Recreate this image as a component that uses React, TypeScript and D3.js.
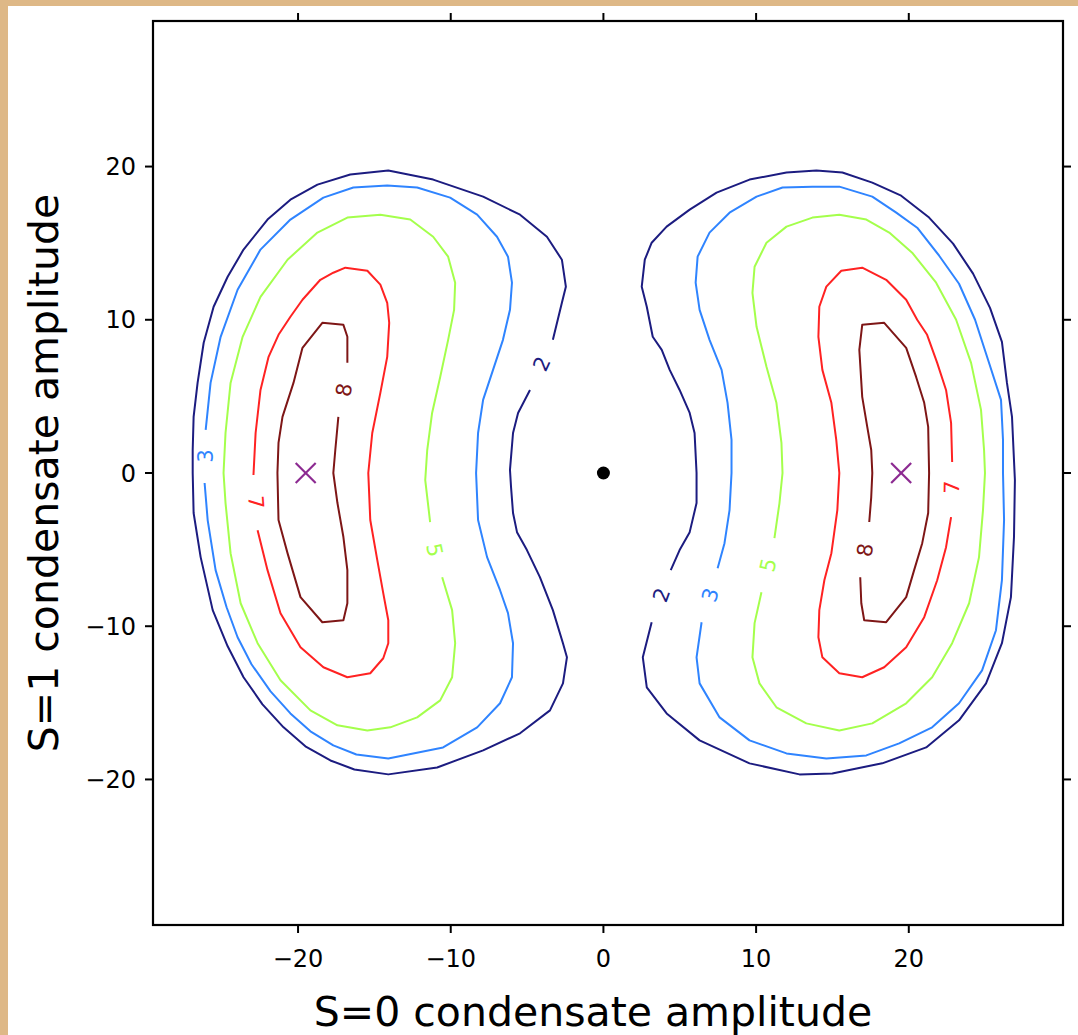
import React from 'react';
import * as d3 from 'd3';

// contour paths, in data units [S=0, S=1]
// each one is open where matplotlib cut it for the inline label
const left2: [number, number][] = [
  [-3.31, 8.69], [-2.72, 11.11], [-2.46, 12.16], [-2.72, 13.92], [-3.7, 15.42], [-5.46, 16.86],
  [-7.88, 18.04], [-11.15, 19.15], [-14.09, 19.74], [-16.58, 19.48], [-18.73, 18.82], [-20.5, 17.84],
  [-22.0, 16.54], [-23.57, 14.58], [-24.61, 12.81], [-25.53, 10.85], [-26.18, 8.5], [-26.58, 5.88],
  [-26.84, 3.66], [-26.9, 1.5], [-26.9, 0], [-26.84, -2.61], [-26.38, -5.49], [-25.59, -8.95],
  [-24.61, -11.31], [-23.57, -13.33], [-22.33, -15.1], [-20.95, -16.6], [-19.52, -17.84],
  [-17.88, -18.76], [-16.31, -19.35], [-14.09, -19.67],
  [-10.89, -19.22], [-7.88, -18.1], [-5.46, -16.99], [-3.5, -15.49], [-2.65, -13.73], [-2.39, -12.03],
  [-2.65, -11.11], [-3.31, -8.95], [-4.16, -6.8], [-5.01, -5.03], [-5.66, -3.86], [-5.92, -2.61],
  [-6.05, -0.92], [-6.12, 0.2], [-6.05, 1.05], [-5.92, 2.61], [-5.59, 3.92], [-4.81, 5.42],
];
const left3: [number, number][] = [
  [-26.12, -0.65], [-25.92, -3.07], [-25.4, -6.34], [-24.68, -8.76], [-23.96, -10.72], [-23.05, -12.48],
  [-21.8, -14.25], [-20.5, -15.69], [-19.19, -16.86], [-17.69, -17.78], [-16.18, -18.37], [-14.09, -18.63],
  [-10.5, -17.91], [-8.27, -16.6], [-6.77, -15.03],
  [-5.99, -13.33], [-5.92, -11.11], [-6.25, -9.15], [-6.77, -7.65], [-7.62, -5.49], [-8.21, -3.07],
  [-8.34, 0], [-8.21, 2.61], [-7.88, 4.77], [-7.23, 6.73], [-6.58, 8.69], [-6.12, 10.65], [-5.99, 12.42],
  [-6.25, 14.12], [-6.97, 15.42], [-8.27, 16.86], [-10.04, 17.97], [-12.2, 18.63], [-14.16, 18.76],
  [-16.38, 18.63], [-18.34, 17.97], [-20.5, 16.54], [-22.46, 14.58], [-23.96, 11.96], [-25.07, 8.89],
  [-25.73, 5.88], [-26.05, 2.81],
];
const left5: [number, number][] = [
  [-10.56, -6.8], [-9.91, -8.95], [-9.71, -11.11], [-9.91, -13.33], [-10.69, -14.84], [-12.2, -15.95],
  [-13.96, -16.6], [-15.46, -16.8], [-17.42, -16.47], [-19.19, -15.49], [-21.15, -13.53], [-22.65, -11.11],
  [-23.76, -8.5], [-24.42, -5.23], [-24.75, -1.96], [-24.88, 0], [-24.75, 2.61], [-24.42, 5.88],
  [-23.63, 8.89], [-22.46, 11.5], [-20.69, 13.92], [-18.73, 15.69], [-16.77, 16.67], [-14.61, 16.86],
  [-12.65, 16.54], [-11.15, 15.42], [-10.17, 14.12], [-9.71, 12.42], [-9.78, 10.65], [-10.17, 8.69],
  [-10.69, 6.27], [-11.22, 3.92], [-11.54, 1.5], [-11.67, -0.46], [-11.35, -3.2],
];
const left7: [number, number][] = [
  [-22.92, -0.13], [-22.78, 2.61], [-22.46, 5.42], [-21.93, 7.58], [-21.28, 9.02], [-20.5, 10.2],
  [-19.71, 11.31], [-18.54, 12.61], [-17.69, 13.07], [-16.9, 13.4], [-15.46, 13.2], [-14.61, 12.29],
  [-14.16, 11.11], [-14.03, 9.8], [-14.16, 7.58], [-14.61, 5.23], [-15.14, 2.61], [-15.4, 0],
  [-15.27, -3.07], [-14.81, -5.69], [-14.42, -7.84], [-14.09, -9.61], [-14.09, -11.11], [-14.42, -12.09],
  [-15.27, -13.07], [-16.77, -13.33], [-18.34, -12.68], [-19.84, -11.37], [-21.15, -9.15], [-22.0, -6.34],
  [-22.65, -3.73],
];
const left8: [number, number][] = [
  [-17.36, 3.66], [-17.56, 1.5], [-17.69, 0], [-17.42, -1.96], [-17.03, -4.18], [-16.77, -6.34],
  [-16.77, -8.5], [-17.03, -9.61], [-18.41, -9.74], [-19.84, -8.1], [-20.69, -5.23], [-21.28, -3.07],
  [-21.35, 0], [-21.28, 1.96], [-21.02, 3.66], [-20.3, 5.88], [-19.71, 8.17], [-18.41, 9.8],
  [-17.03, 9.67], [-16.77, 8.89], [-16.77, 7.19],
];
const right2: [number, number][] = [
  [3.16, -9.74], [2.58, -12.03], [2.84, -13.99], [4.14, -15.69], [6.3, -17.45], [9.57, -18.95],
  [12.84, -19.67], [14.99, -19.61], [18.26, -18.95], [21.14, -17.91], [23.29, -16.14], [25.06, -13.73],
  [26.1, -11.11], [26.69, -8.1], [26.89, -4.18], [26.95, -0.46], [26.76, 3.66], [26.43, 5.88],
  [26.1, 8.56], [25.32, 10.78], [24.21, 13.01], [22.9, 14.97], [21.33, 16.67], [19.5, 18.1],
  [17.61, 18.95], [15.65, 19.61], [13.95, 19.74], [11.99, 19.61], [9.57, 19.15], [7.41, 18.3],
  [5.65, 17.19], [4.14, 16.08], [3.16, 15.03], [2.71, 13.92], [2.51, 12.16], [2.84, 10.85],
  [3.23, 8.89], [3.82, 8.04], [4.34, 6.73], [4.99, 5.42], [5.65, 3.92], [5.97, 2.61], [6.1, 0],
  [6.1, -1.96], [5.65, -3.86], [4.99, -5.03], [4.41, -6.34],
];
const right3: [number, number][] = [
  [6.43, -9.74], [6.1, -12.03], [6.3, -13.73], [7.61, -15.95], [9.57, -17.45], [11.99, -18.3],
  [14.6, -18.63], [17.22, -18.43], [19.37, -17.65], [21.53, -16.6], [23.29, -15.03], [24.8, -12.88],
  [25.71, -10.26], [26.1, -6.99], [26.24, -3.07], [26.17, 0], [26.17, 2.16], [26.04, 4.77],
  [25.19, 7.39], [24.34, 10.0], [23.29, 12.35], [21.99, 14.18], [20.55, 16.01], [19.18, 16.99],
  [17.61, 18.04], [15.45, 18.69], [13.69, 18.69], [11.73, 18.63], [10.03, 18.04], [8.26, 16.99],
  [6.95, 15.69], [6.17, 14.12], [6.04, 12.42], [6.3, 10.65], [6.95, 8.69], [7.74, 6.73], [8.13, 4.58],
  [8.39, 2.16], [8.39, 0], [8.26, -2.42], [7.93, -4.58], [7.48, -6.21],
];
const right5: [number, number][] = [
  [10.35, -7.78], [9.9, -9.8], [9.76, -12.03], [10.22, -13.73], [11.33, -15.29], [13.29, -16.34],
  [15.45, -16.8], [17.61, -16.34], [19.83, -15.03], [21.53, -13.33], [22.84, -11.11], [23.95, -8.5],
  [24.6, -5.49], [24.86, -2.42], [24.99, 0], [24.93, 1.5], [24.73, 4.12], [24.08, 7.19], [23.1, 10.0],
  [21.79, 12.42], [20.22, 14.38], [18.72, 15.69], [17.22, 16.54], [15.45, 16.86], [13.69, 16.67],
  [11.99, 16.08], [10.68, 15.03], [9.9, 13.46], [9.76, 11.76], [10.03, 9.54], [10.68, 6.93],
  [11.33, 4.58], [11.66, 1.96], [11.73, 0], [11.53, -1.96], [11.2, -4.25],
];
const right7: [number, number][] = [
  [22.77, -2.88], [22.44, -4.84], [21.86, -7.0], [21.01, -9.41], [19.83, -11.37], [18.39, -12.68],
  [16.95, -13.33], [15.45, -13.07], [14.34, -12.03], [14.08, -10.72], [14.14, -8.95], [14.47, -7.0],
  [14.93, -5.23], [15.32, -2.42], [15.45, 0], [15.25, 2.16], [14.93, 4.58], [14.34, 6.73], [14.08, 8.89],
  [14.14, 10.85], [14.6, 12.16], [15.58, 13.2], [16.95, 13.4], [18.52, 12.61], [19.83, 11.31],
  [20.55, 10.0], [21.2, 9.02], [21.86, 7.19], [22.44, 5.42], [22.77, 3.27], [22.84, 0.72],
];
const right8: [number, number][] = [
  [16.82, -6.8], [16.89, -8.5], [17.08, -9.61], [18.52, -9.74], [19.83, -8.1], [20.35, -6.34],
  [20.88, -4.58], [21.27, -2.61], [21.33, 0], [21.27, 3.01], [21.01, 4.58], [20.48, 6.27], [19.83, 8.17],
  [18.39, 9.8], [16.95, 9.67], [16.76, 8.04], [16.95, 4.97], [17.28, 3.01], [17.54, 1.5], [17.61, 0],
  [17.54, -1.57], [17.41, -3.2],
];

// inline labels: level, position, angle along the line
const labelLevels = [2, 3, 7, 8, 5, 2, 3, 5, 8, 7];
const labelX = [-4.03, -26.05, -22.78, -16.97, -11.08, 3.82, 7.02, 10.81, 17.15, 22.84];
const labelY = [7.12, 1.11, -1.9, 5.42, -5.03, -7.97, -7.97, -6.01, -5.03, -0.92];
const labelAngle = [-65, -89, 86, -80, 78, -70, -73, -77, -81, -89];

// minima (x) and the origin (dot)
const minimaX = [-19.5, 19.5];
const minimaY = [0, 0];

const xTicks = [-20, -10, 0, 10, 20];
const yTicks = [-20, -10, 0, 10, 20];

const levelColor: Record<number, string> = {
  2: '#1c1c80',
  3: '#2f84ff',
  5: '#a4ff4c',
  7: '#ff2222',
  8: '#7e1616',
};

const contours = [
  { level: 2, pts: left2 }, { level: 3, pts: left3 }, { level: 5, pts: left5 },
  { level: 7, pts: left7 }, { level: 8, pts: left8 },
  { level: 2, pts: right2 }, { level: 3, pts: right3 }, { level: 5, pts: right5 },
  { level: 7, pts: right7 }, { level: 8, pts: right8 },
];

const W = 1078;
const H = 1035;
const plot = { left: 153, right: 1063, top: 21, bottom: 925 };
const font = '"DejaVu Sans", sans-serif';

const App = () => {
  const x = d3.scaleLinear().domain([-29.5, 30.1]).range([plot.left, plot.right]);
  const y = d3.scaleLinear().domain([-29.5, 29.5]).range([plot.bottom, plot.top]);
  const line = d3.line<[number, number]>().x(d => x(d[0])).y(d => y(d[1]));

  return (
    <div style={{ position: 'absolute', left: 0, top: 0 }}>
      <svg width={W} height={H} style={{ display: 'block' }}>
        <rect x={0} y={0} width={W} height={H} fill="#deb887" />
        <rect x={8} y={6} width={W - 8} height={H - 6} fill="#ffffff" />

        {/* contours */}
        <g fill="none" strokeWidth={2} strokeLinejoin="round">
          {contours.map((c, i) => (
            <path key={i} d={line(c.pts) || ''} stroke={levelColor[c.level]} />
          ))}
        </g>

        {/* contour labels */}
        {labelLevels.map((lv, i) => (
          <text
            key={i}
            transform={`translate(${x(labelX[i])},${y(labelY[i])}) rotate(${labelAngle[i]})`}
            textAnchor="middle"
            dominantBaseline="central"
            fontFamily={font}
            fontSize={21}
            fill={levelColor[lv]}
          >
            {lv}
          </text>
        ))}

        {/* minima */}
        {minimaX.map((mx, i) => (
          <g key={i} transform={`translate(${x(mx)},${y(minimaY[i])})`} stroke="#8c2a91" strokeWidth={2.2}>
            <line x1={-10} y1={-10} x2={10} y2={10} />
            <line x1={-10} y1={10} x2={10} y2={-10} />
          </g>
        ))}
        <circle cx={x(0)} cy={y(0)} r={6.5} fill="#000" />

        {/* frame */}
        <rect
          x={plot.left}
          y={plot.top}
          width={plot.right - plot.left}
          height={plot.bottom - plot.top}
          fill="none"
          stroke="#000"
          strokeWidth={2.2}
        />

        {/* ticks on all four sides, pointing out */}
        <g stroke="#000" strokeWidth={2}>
          {xTicks.map(t => (
            <g key={'x' + t}>
              <line x1={x(t)} x2={x(t)} y1={plot.bottom} y2={plot.bottom + 8} />
              <line x1={x(t)} x2={x(t)} y1={plot.top} y2={plot.top - 8} />
            </g>
          ))}
          {yTicks.map(t => (
            <g key={'y' + t}>
              <line x1={plot.left - 8} x2={plot.left} y1={y(t)} y2={y(t)} />
              <line x1={plot.right} x2={plot.right + 8} y1={y(t)} y2={y(t)} />
            </g>
          ))}
        </g>

        <g fontFamily={font} fontSize={24} fill="#000">
          {xTicks.map(t => (
            <text key={'xl' + t} x={x(t)} y={967} textAnchor="middle">
              {t < 0 ? '\u2212' + Math.abs(t) : t}
            </text>
          ))}
          {yTicks.map(t => (
            <text key={'yl' + t} x={136} y={y(t) + 8.7} textAnchor="end">
              {t < 0 ? '\u2212' + Math.abs(t) : t}
            </text>
          ))}
        </g>

        <text x={593} y={1026} textAnchor="middle" fontFamily={font} fontSize={41} fill="#000">
          S=0 condensate amplitude
        </text>
        <text
          transform={`translate(58,${(plot.top + plot.bottom) / 2}) rotate(-90)`}
          textAnchor="middle"
          fontFamily={font}
          fontSize={41}
          fill="#000"
        >
          S=1 condensate amplitude
        </text>
      </svg>
    </div>
  );
};

export default App;
